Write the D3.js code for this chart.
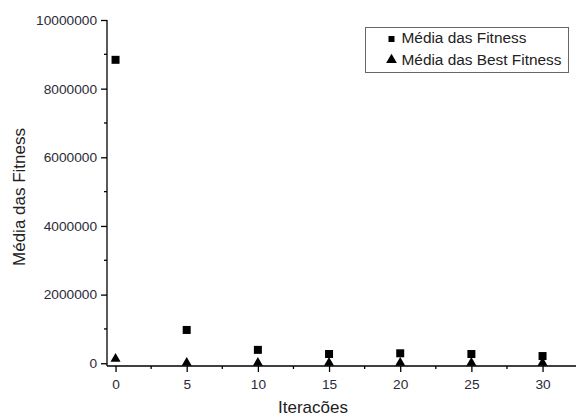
<!DOCTYPE html>
<html>
<head>
<meta charset="utf-8">
<script src="https://cdn.jsdelivr.net/npm/d3@7"></script>
<style>
  body { margin: 0; background: #fff; }
  svg { font-family: "Liberation Sans", Arial, sans-serif; }
</style>
</head>
<body>
<div id="chart"></div>
<script>
const iteracoes = [0, 5, 10, 15, 20, 25, 30];
const mediaFitness = [8840000, 970000, 390000, 270000, 290000, 270000, 210000];
const mediaBestFitness = [130000, 10000, 10000, 10000, 10000, 10000, 10000];
const xTicks = [0, 5, 10, 15, 20, 25, 30];
const yTicks = [0, 2000000, 4000000, 6000000, 8000000, 10000000];
const legendItems = ['Média das Fitness', 'Média das Best Fitness'];

const width = 576, height = 416;
const svg = d3.select('#chart').append('svg')
    .attr('width', width)
    .attr('height', height);

const plot = { left: 107, right: 576, top: 20, bottom: 366 };

const x = d3.scaleLinear().domain([-0.6, 32.35]).range([plot.left, plot.right]);
const y = d3.scaleLinear().domain([-80000, 10000000]).range([plot.bottom, plot.top]);

// minor ticks
svg.append('g')
    .selectAll('line')
    .data(d3.range(1000000, 10000000, 2000000))
    .join('line')
    .attr('x1', plot.left - 3).attr('x2', plot.left)
    .attr('y1', d => y(d)).attr('y2', d => y(d))
    .attr('stroke', '#000').attr('stroke-width', 1.3);

svg.append('g')
    .selectAll('line')
    .data(d3.range(2.5, 32, 5))
    .join('line')
    .attr('x1', d => x(d)).attr('x2', d => x(d))
    .attr('y1', plot.bottom).attr('y2', plot.bottom + 3)
    .attr('stroke', '#000').attr('stroke-width', 1.3);

// y axis
const yAxis = svg.append('g')
    .attr('transform', `translate(${plot.left},0)`)
    .call(d3.axisLeft(y).tickValues(yTicks).tickFormat(d3.format('d')).tickSize(6).tickPadding(4));
yAxis.select('.domain').attr('d', `M0,${plot.bottom}V${plot.top}`).attr('stroke-width', 1.3);
yAxis.selectAll('.tick line').attr('stroke-width', 1.3);
yAxis.selectAll('.tick text').attr('font-size', 13.7).attr('fill', '#2b2b38');

// x axis
const xAxis = svg.append('g')
    .attr('transform', `translate(0,${plot.bottom})`)
    .call(d3.axisBottom(x).tickValues(xTicks).tickSize(6).tickPadding(7));
xAxis.select('.domain').attr('d', `M${plot.left},0H${plot.right}`).attr('stroke-width', 1.3);
xAxis.selectAll('.tick line').attr('stroke-width', 1.3);
xAxis.selectAll('.tick text').attr('font-size', 13.7).attr('fill', '#2b2b38');

// axis titles
svg.append('text')
    .attr('transform', 'translate(25,197) rotate(-90)')
    .attr('text-anchor', 'middle')
    .attr('font-size', 17)
    .attr('fill', '#222')
    .text('Média das Fitness');

svg.append('text')
    .attr('x', 313)
    .attr('y', 413)
    .attr('text-anchor', 'middle')
    .attr('font-size', 17)
    .attr('fill', '#222')
    .text('Iteracões');

// markers
const square = d3.symbol().type(d3.symbolSquare).size(64);
const triangle = d3.symbol().type(d3.symbolTriangle).size(44);

svg.append('g')
    .selectAll('path')
    .data(iteracoes.map((it, i) => ({ it, v: mediaFitness[i] })))
    .join('path')
    .attr('transform', d => `translate(${x(d.it)},${y(d.v)})`)
    .attr('d', square)
    .attr('fill', '#000');

svg.append('g')
    .selectAll('path')
    .data(iteracoes.map((it, i) => ({ it, v: mediaBestFitness[i] })))
    .join('path')
    .attr('transform', d => `translate(${x(d.it)},${y(d.v)})`)
    .attr('d', triangle)
    .attr('fill', '#000');

// legend
const legend = svg.append('g');
legend.append('rect')
    .attr('x', 365.5).attr('y', 27.5)
    .attr('width', 203).attr('height', 45)
    .attr('fill', '#fff')
    .attr('stroke', '#666').attr('stroke-width', 1);

const legendRows = legend.selectAll('g.row')
    .data(legendItems)
    .join('g')
    .attr('class', 'row')
    .attr('transform', (d, i) => `translate(0,${43 + i * 22})`);

legendRows.append('path')
    .attr('transform', (d, i) => `translate(391.5,${i === 0 ? -4 : -5})`)
    .attr('d', (d, i) => i === 0 ? d3.symbol().type(d3.symbolSquare).size(36)() : d3.symbol().type(d3.symbolTriangle).size(50)())
    .attr('fill', '#000');

legendRows.append('text')
    .attr('x', 401.5)
    .attr('y', 0)
    .attr('font-size', 15.4)
    .attr('fill', '#222')
    .text(d => d);
</script>
</body>
</html>
